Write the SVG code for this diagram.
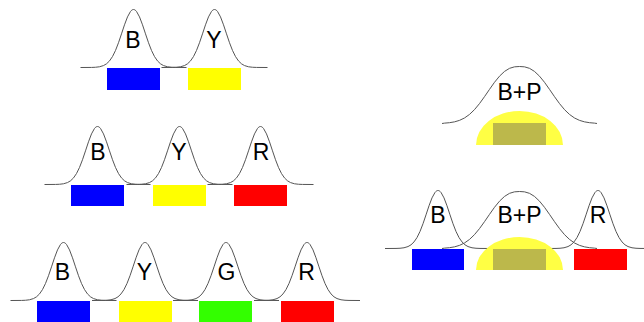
<svg xmlns="http://www.w3.org/2000/svg" xmlns:xlink="http://www.w3.org/1999/xlink" width="644" height="322" viewBox="0 0 644 322">
<style>
.c{fill:none;stroke:#555;stroke-width:1;stroke-linejoin:round}
.t{font-family:"Liberation Sans",Arial,sans-serif;font-size:23px;fill:#000;text-anchor:middle}
.b{fill:#0000ff}.y{fill:#ffff00}.r{fill:#ff0000}.g{fill:#33ff00}
.e{fill:#ffff44}.o{fill:#bcb84b}
</style>
<defs>
<path id="n" d="M-53,0 L-42,-0.07 L-38,-0.25 L-34,-0.73 L-30,-1.93 L-27,-3.68 L-24,-6.57 L-21,-10.95 L-18,-17.04 L-15,-24.77 L-12,-33.65 L-9,-42.7 L-6,-50.62 L-3,-56.06 C-2,-57.33 -1,-58 0,-58 C1,-58 2,-57.33 3,-56.06 L6,-50.62 L9,-42.7 L12,-33.65 L15,-24.77 L18,-17.04 L21,-10.95 L24,-6.57 L27,-3.68 L30,-1.93 L34,-0.73 L38,-0.25 L42,-0.07 L53,0"/>
<path id="w" d="M-77.5,0 L-75,-0.36 L-70,-0.8 L-65,-1.65 L-60,-3.14 L-55,-5.53 L-50,-9.07 L-45,-13.89 L-40,-19.91 L-35,-26.84 L-30,-34.14 L-25,-41.19 L-20,-47.33 L-15,-52.07 L-10,-55.16 L-5,-56.67 L0,-57 L5,-56.67 L10,-55.16 L15,-52.07 L20,-47.33 L25,-41.19 L30,-34.14 L35,-26.84 L40,-19.91 L45,-13.89 L50,-9.07 L55,-5.53 L60,-3.14 L65,-1.65 L70,-0.8 L75,-0.36 L77.5,0"/>
</defs>
<g id="connectors"/>

<g id="r1-B"><use href="#n" xlink:href="#n" class="c" x="133.5" y="67.5"/><rect class="b" x="107" y="68" width="53" height="22"/><text class="t" x="133" y="48">B</text></g>
<g id="r1-Y"><use href="#n" xlink:href="#n" class="c" x="214.5" y="67.5"/><rect class="y" x="188" y="68" width="53" height="22"/><text class="t" x="214" y="48">Y</text></g>

<g id="r2-B"><use href="#n" xlink:href="#n" class="c" x="97.5" y="184.5"/><rect class="b" x="71" y="185" width="53" height="21"/><text class="t" x="98" y="160">B</text></g>
<g id="r2-Y"><use href="#n" xlink:href="#n" class="c" x="179.5" y="184.5"/><rect class="y" x="153" y="185" width="53" height="21"/><text class="t" x="179" y="160">Y</text></g>
<g id="r2-R"><use href="#n" xlink:href="#n" class="c" x="260.5" y="184.5"/><rect class="r" x="234" y="185" width="53" height="21"/><text class="t" x="261" y="160">R</text></g>

<g id="r3-B"><use href="#n" xlink:href="#n" class="c" x="63.5" y="300.5"/><rect class="b" x="37" y="301" width="53" height="21"/><text class="t" x="62.5" y="280">B</text></g>
<g id="r3-Y"><use href="#n" xlink:href="#n" class="c" x="145" y="300.5"/><rect class="y" x="119" y="301" width="53" height="21"/><text class="t" x="144.5" y="280">Y</text></g>
<g id="r3-G"><use href="#n" xlink:href="#n" class="c" x="226" y="300.5"/><rect class="g" x="199" y="301" width="53" height="21"/><text class="t" x="226.5" y="280">G</text></g>
<g id="r3-R"><use href="#n" xlink:href="#n" class="c" x="307" y="300.5"/><rect class="r" x="281" y="301" width="53" height="21"/><text class="t" x="306.5" y="280">R</text></g>

<g id="tr-BP"><use href="#w" xlink:href="#w" class="c" x="519.5" y="123.5"/><path class="e" d="M476,145 A43.5,34 0 0 1 563,145 Z"/><rect class="o" x="493" y="123" width="53" height="22"/><text class="t" x="519.5" y="100">B+P</text></g>

<g id="lr-B"><use href="#n" xlink:href="#n" class="c" x="438" y="248.5"/><rect class="b" x="412" y="249" width="52" height="21"/><text class="t" x="438" y="223">B</text></g>
<g id="lr-R"><use href="#n" xlink:href="#n" class="c" x="598" y="248.5"/><rect class="r" x="574" y="249" width="53" height="21"/><text class="t" x="598" y="223">R</text></g>
<g id="lr-BP"><use href="#w" xlink:href="#w" class="c" x="519.5" y="248.5"/><path class="e" d="M476,270 A43.5,33 0 0 1 563,270 Z"/><rect class="o" x="493" y="249" width="53" height="21"/><text class="t" x="519.5" y="223">B+P</text></g>
</svg>
